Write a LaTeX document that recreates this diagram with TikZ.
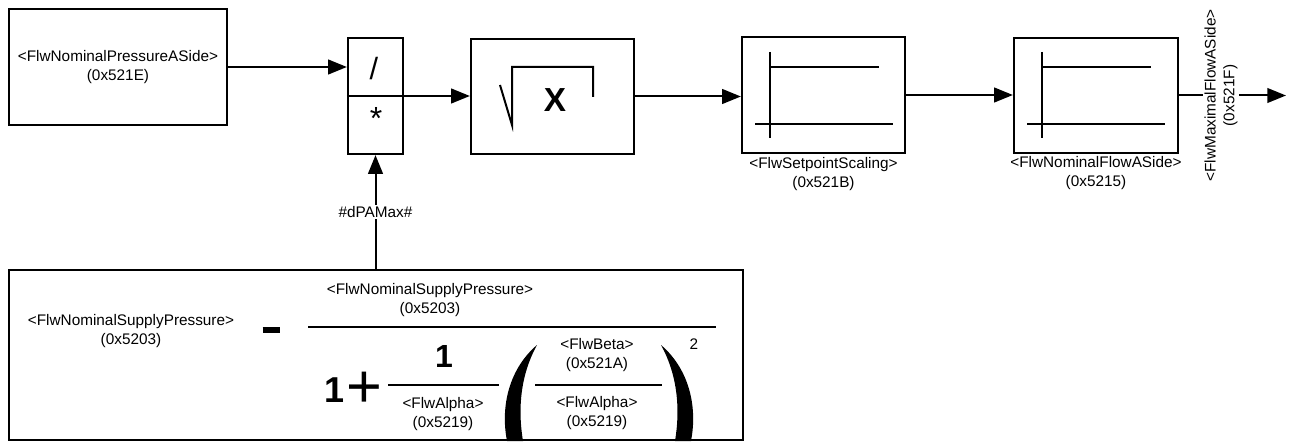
\documentclass[tikz,border=0pt]{standalone}
\usepackage{fontspec}
\setmainfont{Liberation Sans}
\usetikzlibrary{arrows.meta}
\tikzset{
  blk/.style={draw, line width=1.7pt, inner sep=0pt},
  lbl/.style={font=\fontsize{11.5}{14}\selectfont, align=center, inner sep=1pt},
  big/.style={font=\fontsize{#1}{#1}\selectfont, inner sep=0pt},
  wire/.style={line width=1.5pt},
  conn/.style={wire, -{Triangle[length=14pt,width=11pt]}},
}
\begin{document}
\begin{tikzpicture}[x=0.75pt,y=-0.75pt]
\useasboundingbox (0,0) rectangle (1290,442);
\node[blk, lbl, minimum width=163.5pt, minimum height=87pt] (pa) at (118,67) {<FlwNominalPressureASide>\\(0x521E)};
\node[blk, minimum width=41.25pt, minimum height=87pt] (muldiv) at (375.5,96) {};
\draw[wire] (muldiv.west) -- (muldiv.east);
\node[big=23] (div) at (374,69) {/};
\node[big=24] (mul) at (376,118) {*};
\node[blk, minimum width=122.25pt, minimum height=86.25pt] (sqrtb) at (552.5,96.5) {};
\draw[wire] (500,85) -- (512,125) -- (512,67) -- (593,67) -- (593,97);
\node[big=25] (xarg) at (555,100) {\bfseries X};
\node[blk, minimum width=122.25pt, minimum height=87pt] (scale) at (823.5,95) {};
\node[lbl] (scalelbl) at (823.5,174) {<FlwSetpointScaling>\\(0x521B)};
\node[blk, minimum width=123pt, minimum height=86.25pt] (nomflow) at (1096,95.5) {};
\node[lbl] (nomflowlbl) at (1096,173) {<FlwNominalFlowASide>\\(0x5215)};
\foreach \bx in {742,1014} {
  \draw[wire] ({\bx+28},52) -- ({\bx+28},138);
  \draw[wire] ({\bx+28},67) -- ({\bx+137},67);
  \draw[wire] ({\bx+13},124) -- ({\bx+151},124);
}
\node[lbl, rotate=90] (maxflow) at (1221,95.5) {<FlwMaximalFlowASide>\\(0x521F)};
\coordinate (out) at (1286,95.5);
\draw[conn] (pa.east) -- (pa.east -| muldiv.west);
\draw[conn] (muldiv.east) -- (muldiv.east -| sqrtb.west);
\draw[conn] (sqrtb.east) -- (sqrtb.east -| scale.west);
\draw[conn] (scale.east) -- (scale.east -| nomflow.west);
\draw[wire] (nomflow.east) -- (nomflow.east -| maxflow.north);
\draw[conn] (maxflow.south |- out) -- (out);
\node[blk, minimum width=550.5pt, minimum height=127.5pt] (formula) at (376,355) {};
\node[lbl] (dpa) at (375.5,212) {\#dPAMax\#};
\draw[wire] (dpa.south) -- (dpa.south |- formula.north);
\draw[conn] (dpa.north) -- (muldiv.south);
\node[lbl] (supply) at (131,331) {<FlwNominalSupplyPressure>\\(0x5203)};
\node[inner sep=0pt] (minus) at (271,330) {\rule{12.75pt}{4.5pt}};
\node[lbl] (supplynum) at (430,300) {<FlwNominalSupplyPressure>\\(0x5203)};
\draw[wire] (308,327) -- (716,327);
\node[big=27] (one) at (335,390) {\bfseries 1};
\node[big=46] (plus) at (364,390) {+};
\node[big=24] (onenum) at (444,356) {\bfseries 1};
\draw[wire] (388,385) -- (499,385);
\node[lbl] (alpha1) at (443,414) {<FlwAlpha>\\(0x5219)};
\fill (537,345) .. controls (510,368) and (500,405) .. (507,441) -- (523,441) .. controls (517,405) and (522,372) .. (537,345) -- cycle;
\fill (661,345) .. controls (688,368) and (698,405) .. (691,441) -- (675,441) .. controls (681,405) and (676,372) .. (661,345) -- cycle;
\node[lbl] (beta) at (597,355) {<FlwBeta>\\(0x521A)};
\draw[wire] (535,385) -- (662,385);
\node[lbl] (alpha2) at (597,413) {<FlwAlpha>\\(0x5219)};
\node[lbl] (sq) at (694,344) {2};
\end{tikzpicture}
\end{document}
